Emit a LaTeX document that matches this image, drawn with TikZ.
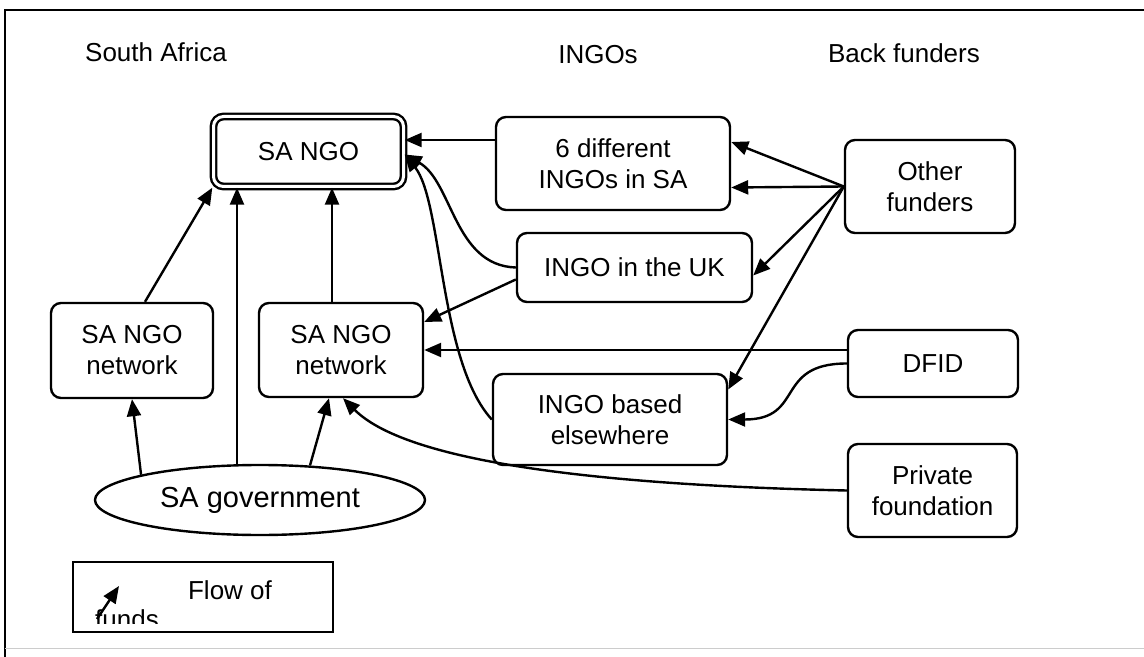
\documentclass[tikz,border=0pt]{standalone}
\usepackage{fontspec}
\setmainfont{Liberation Sans}
\usetikzlibrary{arrows.meta,shapes.geometric}

\begin{document}
\begin{tikzpicture}[x=0.5pt,y=-0.5pt,line width=1.2pt,
  box/.style={draw,rounded corners=5pt,align=center,font=\fontsize{13}{15.5}\selectfont,inner sep=2pt},
  head/.style={font=\fontsize{13}{15.5}\selectfont,inner sep=0pt},
  >={Triangle[length=8.5pt,width=7pt]}]
\useasboundingbox (0,0) rectangle (1144,657);
\draw (5,657) -- (5,10) -- (1144,10);
\draw[gray!40,line width=0.5pt] (5,648) -- (1144,648);
% column headings
\node[head] (hsa) at (156,52) {South Africa};
\node[head] (hingo) at (598,55) {INGOs};
\node[head] (hback) at (904,53) {Back funders};
% boxes
\node[box,double,double distance=1.5pt,minimum width=95pt,minimum height=35pt] (ngo) at (308.5,151.5) {SA NGO};
\node[box,minimum width=117pt,minimum height=46.5pt] (in6) at (613,163.5) {6 different\\INGOs in SA};
\node[box,minimum width=117.5pt,minimum height=34.5pt] (uk) at (634.5,267.5) {INGO in the UK};
\node[box,minimum width=85pt,minimum height=46.5pt] (other) at (930,186.5) {Other\\funders};
\node[box,minimum width=81pt,minimum height=47.5pt] (netl) at (132,350.5) {SA NGO\\network};
\node[box,minimum width=82pt,minimum height=47pt] (netm) at (341,350) {SA NGO\\network};
\node[box,minimum width=85pt,minimum height=33.5pt] (dfid) at (933,363.5) {DFID};
\node[box,minimum width=117pt,minimum height=45.5pt] (elsew) at (610,419.5) {INGO based\\elsewhere};
\node[box,minimum width=84.5pt,minimum height=46.5pt] (priv) at (932.5,490.5) {Private\\foundation};
\node[draw,ellipse,inner sep=0pt,minimum width=165pt,minimum height=35pt,font=\fontsize{14.5}{17}\selectfont] (gov) at (260,500) {SA government};
% flows
\draw[->] ([yshift=11.75pt]in6.west) -- ([yshift=11.75pt]in6.west -| ngo.east);
\draw[->] (uk.west) .. controls +(-62,-2) and +(48,27) .. ([yshift=-1.5pt]ngo.east);
\draw[->] (elsew.west) .. controls +(-53,-58) and +(38,47) .. ([yshift=-1.5pt]ngo.east);
\draw[->] ([yshift=-6pt]uk.west) -- ([yshift=14pt]netm.east);
\draw[->] (other.west) -- ([yshift=10.75pt]in6.east);
\draw[->] (other.west) -- ([yshift=-12pt]in6.east);
\draw[->] (other.west) -- ([yshift=-4pt]uk.east);
\draw[->] (other.west) -- ([yshift=15pt]elsew.east);
\draw[->] ([yshift=6.75pt]dfid.west) -- ([yshift=6.75pt]dfid.west -| netm.east);
\draw[->] (dfid.west) .. controls +(-73,0) and +(77,0) .. (elsew.east);
\draw[->] (priv.west) .. controls +(-228,-5) and +(67,67) .. ([xshift=1pt]netm.south);
\draw[->] (gov.168) -- (netl.south);
\draw[->] ([xshift=-11.5pt]gov.north) -- ([xshift=-11.5pt]gov.north |- ngo.south);
\draw[->] ([xshift=25pt,yshift=-0.8pt]gov.north) -- ([xshift=-6pt]netm.south);
\draw[->] ([xshift=6.5pt]netl.north) -- (ngo.south west);
\draw[->] ([xshift=-4.5pt]netm.north) -- ([xshift=-4.5pt]netm.north |- ngo.south);
% legend
\node[draw,minimum width=130pt,minimum height=35pt,inner sep=0pt] (legend) at (203,597) {};
\node[head] (flow) at (230,590) {Flow of};
\coordinate (lgtail) at (97,619);
\coordinate (lghead) at (119,586);
\draw[->] (lgtail) -- (lghead);
\begin{scope}
\clip (legend.north west) rectangle (333,623);
\node[head,anchor=base west] (funds) at (94,628) {funds};
\end{scope}
\end{tikzpicture}
\end{document}
